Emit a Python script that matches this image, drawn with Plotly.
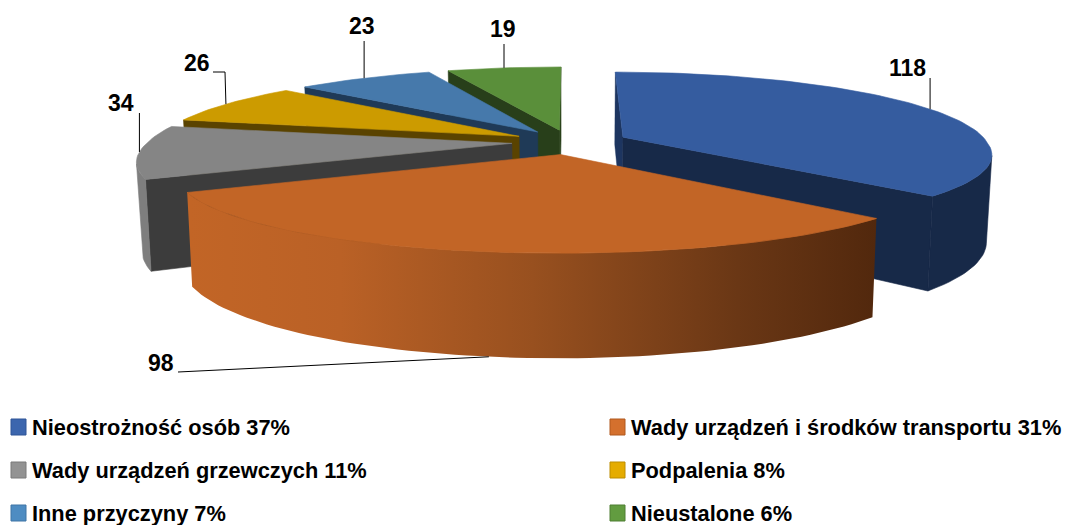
import math
import plotly.graph_objects as go

# ---- data ----
categories = ["Nieostrożność osób", "Wady urządzeń i środków transportu",
              "Wady urządzeń grzewczych", "Podpalenia", "Inne przyczyny", "Nieustalone"]
values = [118, 98, 34, 26, 23, 19]
percents = [37, 31, 11, 8, 7, 6]

# ---- styles ----
top_colors = ["#355C9F", "#C26526", "#858585", "#CC9B00", "#4679AB", "#5A8F3A"]
wall_colors = ["#172948", "#C26526", "#3C3C3C", "#5A4300", "#1F3A57", "#283F1A"]
rim_colors = ["#172948", None, "#7E7E7E", "#5A4300", "#1F3A57", "#283F1A"]
legend_colors = ["#3C66AE", "#D4702D", "#939393", "#E5AC00", "#4E8CC2", "#629C40"]
legend_edges = ["#2F5597", "#B0591F", "#7A7A7A", "#BD8D00", "#3F75A5", "#4E7F32"]
draw_order = [5, 4, 3, 2, 0, 1]
FONT = "Liberation Sans"

# projection of the tilted cylinder into the plot's axes
CX, CY, RX, RY, PY, HEIGHT, PH, TAPER, EXPLODE = 570, 142, 364, 77.4, 0.167, 85, 0.166, 0.013, 0.16
PX_FRONT, PX_BACK = 0.20, 0.17


def project(x, y, z=0.0):
    px = PX_FRONT if y < 0 else PX_BACK
    return (CX + x * RX / (1 + px * y) * (1 - TAPER * z),
            CY - y * RY / (1 + PY * y) + z * HEIGHT / (1 + PH * y))


def area(pts):
    return 0.5 * sum(pts[i][0] * pts[(i + 1) % len(pts)][1] - pts[(i + 1) % len(pts)][0] * pts[i][1]
                     for i in range(len(pts)))


fig = go.Figure()


def add_poly(pts, color, line=None, width=0.6, gradient=None):
    xs = [p[0] for p in pts] + [pts[0][0]]
    ys = [p[1] for p in pts] + [pts[0][1]]
    kw = dict(fillgradient=gradient) if gradient else dict(fillcolor=color)
    fig.add_trace(go.Scatter(x=xs, y=ys, mode="lines", fill="toself",
                             line=dict(color=line or color or "rgba(0,0,0,0)", width=width),
                             hoverinfo="skip", showlegend=False, **kw))


total = sum(values)
starts, acc = [], 0
for v in values:
    starts.append(acc / total * 2 * math.pi)
    acc += v

# small shift of each leader's anchor along the rim, degrees
anchor_nudge = {0: 0, 1: -0.5, 2: 0, 3: -0.5, 4: 0, 5: 0}

anchors = []
for i in draw_order:
    a0 = starts[i]
    a1 = a0 + values[i] / total * 2 * math.pi
    mid = (a0 + a1) / 2
    ox, oy = EXPLODE * math.sin(mid), EXPLODE * math.cos(mid)
    n = max(6, int((a1 - a0) / math.radians(1.5)))
    ang = [a0 + (a1 - a0) * k / n for k in range(n + 1)]
    rim = [(ox + math.sin(a), oy + math.cos(a)) for a in ang]
    top = [project(ox, oy)] + [project(*r) for r in rim]
    sign = area(top)

    # straight cut faces
    for corner in (rim[0], rim[-1]):
        quad = [project(ox, oy), project(*corner), project(*corner, 1), project(ox, oy, 1)]
        if i == 0 and corner == rim[0]:
            add_poly(quad, "#1D3560", width=0.4)
            continue
        order = quad if corner == rim[0] else quad[::-1]
        if area(order) * sign > 0:
            continue
        add_poly(quad, wall_colors[i] if i != 1 else "#54290D")

    # outer curved wall: only segments facing the viewer
    run = []
    runs = []
    for k in range(n):
        q = [project(*rim[k]), project(*rim[k + 1]), project(*rim[k + 1], 1), project(*rim[k], 1)]
        if area(q) * sign < 0:
            run.append(k)
        elif run:
            runs.append(run)
            run = []
    if run:
        runs.append(run)
    for r in runs:
        idx = r + [r[-1] + 1]
        upper = [project(*rim[k]) for k in idx]
        lower = [project(*rim[k], 1) for k in idx]
        poly = upper + lower[::-1]
        if i == 1:
            grad = dict(type="horizontal", start=190, stop=875,
                        colorscale=[[0, "#C26526"], [0.22, "#BA6126"], [0.5, "#98501F"],
                                    [0.8, "#6A3715"], [1, "#52280D"]])
            add_poly(poly, None, line="rgba(0,0,0,0)", width=0, gradient=grad)
            fig.add_trace(go.Scatter(x=[p[0] for p in upper], y=[p[1] for p in upper], mode="lines",
                                     line=dict(color="#A9591F", width=0.8),
                                     hoverinfo="skip", showlegend=False))
        else:
            add_poly(poly, rim_colors[i])

    add_poly(top, top_colors[i])
    # anchor of the leader line on the rim, at the slice's middle angle
    am = mid + math.radians(anchor_nudge[i])
    ax, ay = ox + math.sin(am), oy + math.cos(am)
    anchors.append((i, project(ax, ay, 1.0 if i == 1 else 0.0)))

# leader lines: run from the anchor through an elbow to the label
leader_ends = {0: [(None, 78)], 1: [(178, 372)], 2: [(None, 113)], 3: [(225, 72), (213, 72)],
               4: [(None, 41)], 5: [(None, 44)]}
label_pos = {0: (907, 68), 1: (161, 363), 2: (121, 103), 3: (197, 63), 4: (362, 26), 5: (503, 29)}

for i, (ax, ay) in anchors:
    xs, ys = [ax], [ay]
    for ex, ey in leader_ends[i]:
        xs.append(ax if ex is None else ex)
        ys.append(ey)
    fig.add_trace(go.Scatter(x=xs, y=ys, mode="lines", line=dict(color="#000000", width=1),
                             hoverinfo="skip", showlegend=False))
    lx, ly = label_pos[i]
    fig.add_annotation(x=lx, y=ly, text=f"<b>{values[i]}</b>", showarrow=False, xref="x", yref="y",
                       xanchor="center", yanchor="middle", font=dict(family=FONT, size=23, color="#000000"))

# legend, two columns
col_x = [11, 610]
row_y = [427, 470, 513]
for i, (cat, pct) in enumerate(zip(categories, percents)):
    x0 = col_x[i % 2]
    y0 = row_y[i // 2]
    fig.add_shape(type="rect", x0=x0, x1=x0 + 15, y0=y0 - 8, y1=y0 + 8, xref="x", yref="y",
                  fillcolor=legend_colors[i], line=dict(color=legend_edges[i], width=1))
    fig.add_annotation(x=x0 + 19, y=y0, text=f"<b>{cat} {pct}%</b>", showarrow=False, xref="x", yref="y",
                       xanchor="left", yanchor="middle", font=dict(family=FONT, size=21.8, color="#000000"))

fig.update_layout(width=1065, height=525, margin=dict(l=0, r=0, t=0, b=0), autosize=False,
                  paper_bgcolor="#FFFFFF", plot_bgcolor="#FFFFFF", showlegend=False,
                  xaxis=dict(range=[0, 1065], visible=False, fixedrange=True),
                  yaxis=dict(range=[525, 0], visible=False, fixedrange=True))
fig.write_html("out.html", config=dict(displayModeBar=False),
               post_script="document.body.style.margin='0';document.documentElement.style.overflow='hidden';")
